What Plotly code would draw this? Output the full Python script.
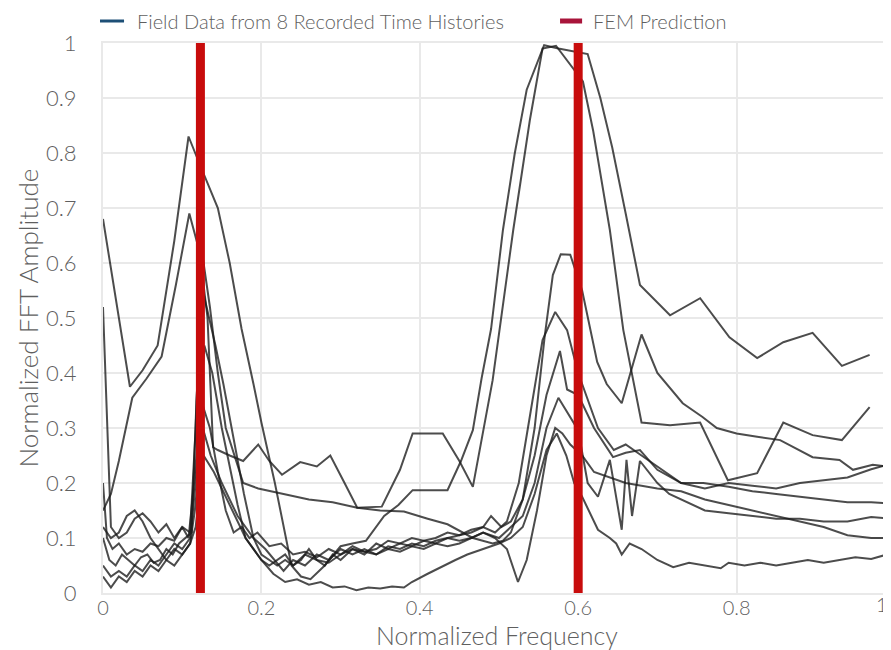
import plotly.graph_objects as go

# ---------------- data ----------------
x_tick_vals = [0, 0.2, 0.4, 0.6, 0.8]
x_tick_text = ["0", "0.2", "0.4", "0.6", "0.8", "1"]
y_tick_vals = [0, 0.1, 0.2, 0.3, 0.4, 0.5, 0.6, 0.7, 0.8, 0.9, 1]
y_tick_text = ["0", "0.1", "0.2", "0.3", "0.4", "0.5", "0.6", "0.7", "0.8", "0.9", "1"]

fem_freqs = [0.123, 0.600]

field_1 = [(0.000,0.680),(0.017,0.530),(0.034,0.375),(0.050,0.405),(0.069,0.450),(0.090,0.640),
           (0.108,0.830),(0.122,0.780),(0.133,0.740),(0.145,0.700),(0.160,0.600),(0.175,0.480),
           (0.190,0.380),(0.200,0.310),(0.217,0.200),(0.230,0.110),(0.238,0.050),(0.250,0.030),
           (0.262,0.025),(0.280,0.050),(0.300,0.085),(0.315,0.090),(0.332,0.095),
           (0.355,0.140),(0.373,0.160),(0.391,0.187),(0.412,0.187),(0.435,0.187),(0.452,0.240),
           (0.467,0.296),(0.478,0.390),(0.490,0.480),(0.505,0.660),(0.520,0.800),(0.535,0.915),
           (0.557,0.996),(0.575,0.990),(0.595,0.985),(0.612,0.980),(0.628,0.900),(0.643,0.810),
           (0.660,0.690),(0.678,0.560),(0.716,0.505),(0.754,0.536),(0.791,0.465),(0.826,0.427),
           (0.859,0.456),(0.896,0.473),(0.933,0.413),(0.968,0.433)]

field_2 = [(0.000,0.150),(0.010,0.180),(0.020,0.240),(0.037,0.355),(0.055,0.390),(0.074,0.430),
           (0.092,0.560),(0.109,0.690),(0.122,0.620),(0.132,0.500),(0.139,0.265),(0.145,0.260),
           (0.160,0.250),(0.177,0.240),(0.196,0.270),(0.210,0.240),(0.226,0.215),(0.249,0.238),
           (0.270,0.230),(0.287,0.250),(0.305,0.200),(0.321,0.155),(0.352,0.157),(0.375,0.224),
           (0.391,0.290),(0.429,0.290),(0.450,0.240),(0.467,0.193),(0.492,0.387),(0.518,0.660),
           (0.539,0.860),(0.555,0.990),(0.572,0.995),(0.590,0.960),(0.606,0.930),(0.619,0.840),
           (0.640,0.660),(0.657,0.478),(0.680,0.310),(0.716,0.305),(0.754,0.310),(0.789,0.205),
           (0.826,0.218),(0.859,0.310),(0.896,0.287),(0.933,0.278),(0.968,0.338)]

field_3 = [(0.000,0.520),(0.005,0.300),(0.010,0.120),(0.020,0.100),(0.030,0.110),(0.040,0.135),
           (0.050,0.145),(0.060,0.130),(0.070,0.110),(0.080,0.125),(0.090,0.100),(0.100,0.120),
           (0.110,0.110),(0.117,0.300),(0.125,0.620),(0.135,0.520),(0.145,0.400),(0.155,0.300),
           (0.177,0.200),(0.196,0.190),(0.226,0.180),(0.260,0.170),(0.290,0.165),(0.321,0.155),
           (0.350,0.150),(0.380,0.148),(0.410,0.135),(0.435,0.125),(0.467,0.100),(0.492,0.090),
           (0.505,0.095),(0.515,0.110),(0.530,0.170),(0.545,0.300),(0.558,0.470),(0.568,0.578),
           (0.578,0.616),(0.590,0.615),(0.605,0.550),(0.624,0.420),(0.636,0.380),(0.655,0.345),
           (0.680,0.470),(0.700,0.400),(0.732,0.345),(0.757,0.320),(0.775,0.300),(0.800,0.290),
           (0.826,0.284),(0.855,0.278),(0.896,0.247),(0.930,0.242),(0.947,0.224),(0.972,0.233),
           (0.990,0.230)]

field_4 = [(0.000,0.100),(0.008,0.060),(0.016,0.050),(0.024,0.070),(0.032,0.060),(0.040,0.050),
           (0.048,0.065),(0.056,0.070),(0.064,0.055),(0.072,0.060),(0.080,0.080),(0.088,0.070),
           (0.096,0.090),(0.104,0.100),(0.112,0.110),(0.118,0.350),(0.126,0.550),(0.134,0.500),
           (0.142,0.450),(0.152,0.380),(0.165,0.280),(0.178,0.180),(0.190,0.100),(0.200,0.070),
           (0.210,0.060),(0.220,0.050),(0.230,0.060),(0.240,0.050),(0.255,0.070),(0.270,0.060),
           (0.285,0.055),(0.300,0.070),(0.315,0.080),(0.330,0.075),(0.345,0.070),(0.360,0.085),
           (0.375,0.080),(0.390,0.090),(0.405,0.085),(0.420,0.095),(0.435,0.100),(0.450,0.105),
           (0.465,0.110),(0.480,0.120),(0.495,0.110),(0.510,0.130),(0.525,0.200),(0.540,0.330),
           (0.555,0.460),(0.571,0.511),(0.586,0.478),(0.600,0.400),(0.612,0.350),(0.625,0.300),
           (0.645,0.260),(0.660,0.270),(0.680,0.250),(0.700,0.230),(0.730,0.200),(0.760,0.190),
           (0.790,0.200),(0.820,0.195),(0.850,0.190),(0.880,0.200),(0.910,0.205),(0.940,0.210),
           (0.970,0.225),(0.990,0.233)]

field_5 = [(0.000,0.050),(0.010,0.030),(0.020,0.040),(0.030,0.030),(0.040,0.050),(0.050,0.040),
           (0.060,0.060),(0.070,0.050),(0.080,0.070),(0.090,0.090),(0.100,0.080),(0.110,0.100),
           (0.117,0.200),(0.128,0.450),(0.138,0.400),(0.150,0.300),(0.160,0.230),(0.170,0.160),
           (0.180,0.100),(0.190,0.080),(0.200,0.060),(0.210,0.050),(0.220,0.060),(0.230,0.070),
           (0.240,0.050),(0.250,0.060),(0.260,0.080),(0.270,0.060),(0.280,0.050),(0.290,0.070),
           (0.300,0.060),(0.315,0.080),(0.330,0.070),(0.345,0.090),(0.360,0.080),(0.375,0.090),
           (0.390,0.100),(0.405,0.095),(0.420,0.100),(0.435,0.110),(0.450,0.105),(0.465,0.115),
           (0.480,0.120),(0.490,0.140),(0.503,0.120),(0.515,0.130),(0.530,0.170),(0.545,0.250),
           (0.560,0.360),(0.577,0.440),(0.586,0.370),(0.600,0.360),(0.605,0.345),(0.620,0.300),
           (0.644,0.247),(0.660,0.255),(0.678,0.260),(0.700,0.224),(0.730,0.200),(0.758,0.200),
           (0.790,0.193),(0.820,0.185),(0.850,0.180),(0.880,0.175),(0.910,0.170),(0.940,0.165),
           (0.970,0.165),(0.990,0.163)]

field_6 = [(0.000,0.200),(0.005,0.100),(0.012,0.080),(0.020,0.090),(0.030,0.070),(0.040,0.080),
           (0.050,0.075),(0.060,0.090),(0.070,0.085),(0.080,0.100),(0.090,0.095),(0.100,0.120),
           (0.108,0.100),(0.115,0.200),(0.124,0.350),(0.135,0.300),(0.145,0.220),(0.155,0.150),
           (0.165,0.110),(0.175,0.120),(0.185,0.100),(0.195,0.110),(0.210,0.085),(0.225,0.090),
           (0.240,0.070),(0.255,0.075),(0.270,0.065),(0.285,0.080),(0.300,0.070),(0.315,0.085),
           (0.330,0.075),(0.345,0.080),(0.360,0.095),(0.375,0.090),(0.390,0.085),(0.405,0.095),
           (0.420,0.090),(0.435,0.100),(0.450,0.095),(0.465,0.100),(0.480,0.110),(0.500,0.100),
           (0.515,0.120),(0.530,0.140),(0.545,0.200),(0.560,0.300),(0.575,0.355),(0.590,0.320),
           (0.600,0.296),(0.612,0.200),(0.625,0.175),(0.640,0.242),(0.655,0.115),(0.661,0.242),
           (0.668,0.140),(0.678,0.240),(0.700,0.200),(0.715,0.180),(0.730,0.170),(0.760,0.150),
           (0.790,0.145),(0.820,0.140),(0.850,0.135),(0.880,0.135),(0.910,0.130),(0.940,0.130),
           (0.970,0.138),(0.990,0.136)]

field_7 = [(0.000,0.120),(0.010,0.100),(0.020,0.110),(0.030,0.140),(0.040,0.150),(0.050,0.130),
           (0.060,0.100),(0.070,0.080),(0.080,0.060),(0.090,0.050),(0.100,0.070),(0.110,0.090),
           (0.116,0.150),(0.126,0.300),(0.136,0.250),(0.150,0.200),(0.170,0.140),(0.190,0.100),
           (0.205,0.080),(0.217,0.060),(0.228,0.040),(0.240,0.060),
           (0.255,0.050),(0.270,0.070),(0.285,0.060),(0.300,0.080),(0.315,0.070),(0.330,0.080),
           (0.345,0.070),(0.360,0.080),(0.375,0.075),(0.390,0.085),(0.405,0.080),(0.420,0.090),
           (0.435,0.085),(0.450,0.090),(0.465,0.100),(0.480,0.110),(0.495,0.100),(0.510,0.080),
           (0.524,0.020),(0.535,0.060),(0.548,0.150),(0.560,0.250),(0.571,0.300),(0.580,0.290),
           (0.590,0.270),(0.605,0.250),(0.620,0.220),(0.640,0.210),(0.660,0.200),(0.680,0.195),
           (0.700,0.190),(0.730,0.185),(0.760,0.170),(0.790,0.160),(0.820,0.150),(0.850,0.140),
           (0.880,0.130),(0.910,0.120),(0.940,0.105),(0.970,0.100),(0.990,0.100)]

field_8 = [(0.000,0.030),(0.010,0.010),(0.020,0.030),(0.030,0.020),(0.040,0.040),(0.050,0.030),
           (0.060,0.050),(0.070,0.040),(0.080,0.060),(0.090,0.080),(0.100,0.070),(0.110,0.090),
           (0.117,0.120),(0.127,0.250),(0.140,0.220),(0.160,0.160),(0.180,0.100),(0.200,0.060),
           (0.215,0.035),(0.230,0.020),(0.245,0.025),(0.260,0.015),
           (0.275,0.020),(0.290,0.010),(0.305,0.012),(0.320,0.005),(0.335,0.010),(0.350,0.008),
           (0.365,0.012),(0.380,0.010),(0.390,0.020),(0.410,0.035),(0.430,0.050),(0.445,0.060),
           (0.460,0.070),(0.480,0.080),(0.500,0.090),(0.515,0.100),(0.530,0.120),(0.545,0.180),
           (0.560,0.260),(0.573,0.290),(0.585,0.250),(0.595,0.200),(0.605,0.175),(0.625,0.115),
           (0.640,0.100),(0.648,0.090),(0.655,0.070),(0.665,0.090),(0.680,0.080),(0.700,0.060),
           (0.720,0.047),(0.740,0.055),(0.760,0.050),(0.780,0.045),(0.790,0.055),(0.810,0.050),
           (0.830,0.055),(0.850,0.050),(0.870,0.055),(0.890,0.060),(0.910,0.055),(0.930,0.060),
           (0.950,0.065),(0.970,0.062),(0.990,0.070)]

field_series = [field_1, field_2, field_3, field_4, field_5, field_6, field_7, field_8]

legend_names = ["Field Data from 8 Recorded Time Histories", "FEM Prediction"]

# ---------------- styling ----------------
FONT = "Lato"
TXT = "#5f5f5f"
GRID = "#e9e9e9"
LINE_COL = "rgba(25,25,25,0.78)"
RED = "#c80c0c"
LEG_COLORS = ["#1d4f76", "#a8143a"]

fig = go.Figure()

for s in field_series:
    fig.add_trace(go.Scatter(
        x=[p[0] for p in s], y=[p[1] for p in s], mode="lines",
        line=dict(color=LINE_COL, width=2), showlegend=False, hoverinfo="skip"))

for f in fem_freqs:
    fig.add_trace(go.Scatter(
        x=[f, f], y=[0, 1], mode="lines",
        line=dict(color=RED, width=9), showlegend=False, hoverinfo="skip"))

# the page body adds an 8px offset, so the figure is 8px smaller than the window
fig.update_layout(
    width=883, height=642,
    margin=dict(l=95, r=0, t=35, b=57),
    paper_bgcolor="white", plot_bgcolor="white",
    font=dict(family=FONT, color=TXT, size=20, weight=300),
    showlegend=False,
    xaxis=dict(range=[0, 0.995], tickvals=x_tick_vals, ticktext=x_tick_text[:5],
               automargin=False,
               showgrid=True, gridcolor=GRID, gridwidth=2,
               zeroline=False, showline=True, mirror=True, linecolor=GRID, linewidth=2,
               ticklabelstandoff=-4,
               tickfont=dict(size=20, family=FONT, color=TXT, weight=300),
               title=dict(text="Normalized Frequency", standoff=9,
                          font=dict(size=25, family=FONT, color=TXT, weight=300))),
    yaxis=dict(range=[0, 1], tickvals=y_tick_vals, ticktext=y_tick_text,
               automargin=False,
               showgrid=True, gridcolor=GRID, gridwidth=2,
               zeroline=False, showline=True, mirror=True, linecolor=GRID, linewidth=2,
               ticklabelstandoff=20,
               tickfont=dict(size=22, family=FONT, color=TXT, weight=300),
               title=dict(text="Normalized FFT Amplitude", standoff=0,
                          font=dict(size=26, family=FONT, color=TXT, weight=300))),
)

# last x tick label ("1") sits on the right edge of the plot
fig.add_annotation(x=1, xref="paper", y=0, yref="paper", yshift=-11, xshift=-1,
                   text=x_tick_text[5], showarrow=False, xanchor="right", yanchor="middle",
                   font=dict(size=20, family=FONT, color=TXT, weight=300))

# legend row above the plot
leg_y = 1.04
leg_items = [(-0.0038, 0.0267, 0.0406), (0.580, 0.608, 0.6193)]
for (x0, x1, xt), name, col, w in zip(leg_items, legend_names, LEG_COLORS, [3, 5]):
    fig.add_shape(type="line", xref="paper", yref="paper", x0=x0, x1=x1, y0=leg_y, y1=leg_y,
                  line=dict(color=col, width=w))
    fig.add_annotation(x=xt, xref="paper", y=leg_y, yref="paper", text=name, showarrow=False,
                       xanchor="left", yanchor="middle",
                       font=dict(size=20, family=FONT, color=TXT, weight=300))

fig.write_html("out.html")
